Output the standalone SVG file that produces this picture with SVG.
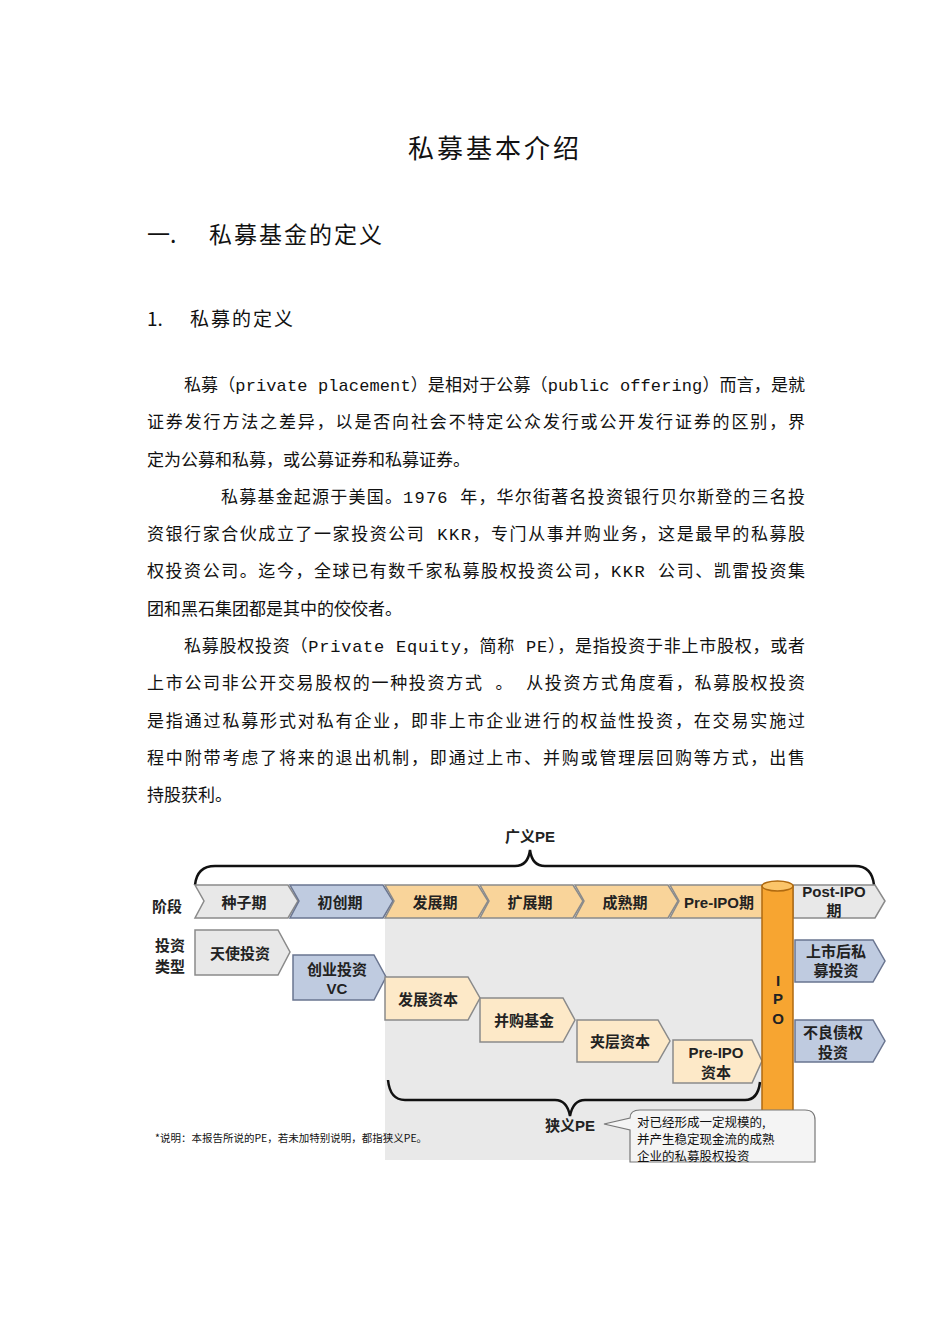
<svg xmlns="http://www.w3.org/2000/svg" width="950" height="1344" viewBox="0 0 950 1344">
<style>
.t{font-family:"Liberation Mono","Noto Sans CJK SC",monospace;font-size:17px;fill:#111}
.h{font-family:"Noto Sans CJK SC",sans-serif;fill:#111}
.d{font-family:"Liberation Sans","Noto Sans CJK SC",sans-serif;font-size:15px;font-weight:bold;fill:#222;text-anchor:middle}
.g{fill:#e8e8e8;stroke:#8a8a8a;stroke-width:1.5}
.b{fill:#bfcbe0;stroke:#6a7590;stroke-width:1.5}
.y{fill:#fde9c8;stroke:#8a8a8a;stroke-width:1.5}
.o{fill:#f9d49a;stroke:#8a8a8a;stroke-width:1.5}
.br{fill:none;stroke:#111;stroke-width:2.5}
</style>
<rect width="950" height="1344" fill="#fff"/>
<text class="h" x="495" y="158" font-size="26" text-anchor="middle" letter-spacing="3">私募基本介绍</text>
<text class="h" x="147" y="243" font-size="23">一.</text>
<text class="h" x="209" y="243" font-size="23" letter-spacing="2">私募基金的定义</text>
<text class="h" x="147" y="326" font-size="19">1.</text>
<text class="h" x="190" y="326" font-size="19" letter-spacing="2">私募的定义</text>
<g class="t">
<text x="184" y="391" textLength="621" lengthAdjust="spacing">私募（private placement）是相对于公募（public offering）而言，是就</text>
<text x="147" y="428" textLength="658" lengthAdjust="spacing">证券发行方法之差异，以是否向社会不特定公众发行或公开发行证券的区别，界</text>
<text x="147" y="466">定为公募和私募，或公募证券和私募证券。</text>
<text x="221" y="503" textLength="584" lengthAdjust="spacing">私募基金起源于美国。1976 年，华尔街著名投资银行贝尔斯登的三名投</text>
<text x="147" y="540" textLength="658" lengthAdjust="spacing">资银行家合伙成立了一家投资公司 KKR，专门从事并购业务，这是最早的私募股</text>
<text x="147" y="577" textLength="658" lengthAdjust="spacing">权投资公司。迄今，全球已有数千家私募股权投资公司，KKR 公司、凯雷投资集</text>
<text x="147" y="615">团和黑石集团都是其中的佼佼者。</text>
<text x="184" y="652" textLength="621" lengthAdjust="spacing">私募股权投资（Private Equity，简称 PE），是指投资于非上市股权，或者</text>
<text x="147" y="689" textLength="658" lengthAdjust="spacing">上市公司非公开交易股权的一种投资方式 。 从投资方式角度看，私募股权投资</text>
<text x="147" y="727" textLength="658" lengthAdjust="spacing">是指通过私募形式对私有企业，即非上市企业进行的权益性投资，在交易实施过</text>
<text x="147" y="764" textLength="658" lengthAdjust="spacing">程中附带考虑了将来的退出机制，即通过上市、并购或管理层回购等方式，出售</text>
<text x="147" y="801">持股获利。</text>
</g>
<rect x="385" y="918" width="377" height="242" fill="#e9e9e9"/>
<g id="connectors">
<path class="br" d="M195 885 Q197 866 215 866 L515 866 Q528 866 530 850 Q532 866 545 866 L855 866 Q872 866 874 885"/>
<path class="br" d="M388 1080 Q390 1100 405 1100 L555 1100 Q567 1100 570 1116 Q573 1100 585 1100 L745 1100 Q758 1100 760 1082"/>
</g>
<text class="d" x="530" y="842" font-size="16">广义PE</text>
<text class="d" x="167" y="912">阶段</text>
<text class="d" x="170" y="951">投资</text>
<text class="d" x="170" y="972">类型</text>
<g id="stages">
<path class="g" d="M195 885 L288 885 L298 901 L288 918 L195 918 L204 901Z"/>
<path class="b" d="M290 885 L383 885 L393 901 L383 918 L290 918 L299 901Z"/>
<path class="o" d="M385 885 L478 885 L488 901 L478 918 L385 918 L394 901Z"/>
<path class="o" d="M480 885 L573 885 L583 901 L573 918 L480 918 L489 901Z"/>
<path class="o" d="M575 885 L668 885 L678 901 L668 918 L575 918 L584 901Z"/>
<path class="o" d="M670 885 L765 885 L765 918 L670 918 L679 901Z"/>
<path class="g" d="M793 885 L875 885 L885 901 L875 918 L793 918Z"/>
<text class="d" x="244" y="908">种子期</text>
<text class="d" x="340" y="908">初创期</text>
<text class="d" x="435" y="908">发展期</text>
<text class="d" x="530" y="908">扩展期</text>
<text class="d" x="625" y="908">成熟期</text>
<text class="d" x="719" y="908">Pre-IPO期</text>
<text class="d" x="834" y="897">Post-IPO</text>
<text class="d" x="834" y="916">期</text>
</g>
<g id="types">
<path class="g" d="M195 930 L278 930 L290 952 L278 975 L195 975Z"/>
<text class="d" x="240" y="959">天使投资</text>
<path class="b" d="M293 955 L374 955 L386 977 L374 1000 L293 1000Z"/>
<text class="d" x="337" y="975">创业投资</text><text class="d" x="337" y="994">VC</text>
<path class="y" d="M385 977 L468 977 L480 998 L468 1020 L385 1020Z"/>
<text class="d" x="428" y="1005">发展资本</text>
<path class="y" d="M480 998 L563 998 L575 1020 L563 1042 L480 1042Z"/>
<text class="d" x="524" y="1026">并购基金</text>
<path class="y" d="M577 1020 L658 1020 L670 1041 L658 1062 L577 1062Z"/>
<text class="d" x="620" y="1047">夹层资本</text>
<path class="y" d="M673 1040 L752 1040 L762 1061 L752 1083 L673 1083Z"/>
<text class="d" x="716" y="1058">Pre-IPO</text><text class="d" x="716" y="1078">资本</text>
<path class="b" d="M795 940 L873 940 L885 961 L873 982 L795 982Z"/>
<text class="d" x="836" y="957">上市后私</text><text class="d" x="836" y="976">募投资</text>
<path class="b" d="M795 1020 L873 1020 L885 1041 L873 1062 L795 1062Z"/>
<text class="d" x="833" y="1038">不良债权</text><text class="d" x="833" y="1058">投资</text>
</g>
<g id="ipo">
<path d="M762 886 L762 1130 A15.5 5 0 0 0 793 1130 L793 886Z" fill="#f7a531" stroke="#b06a10" stroke-width="1.5"/>
<ellipse cx="777.5" cy="886" rx="15.5" ry="5" fill="#fbc56a" stroke="#b06a10" stroke-width="1.5"/>
<text class="d" x="778" y="986">I</text><text class="d" x="778" y="1004">P</text><text class="d" x="778" y="1024">O</text>
</g>
<text class="d" x="570" y="1131" font-size="16">狭义PE</text>
<g id="callout">
<path d="M640 1110 L805 1110 Q815 1110 815 1120 L815 1162 L630 1162 L630 1130 L604 1124 L630 1118 Q630 1110 640 1110Z" fill="#f4f4f4" stroke="#777" stroke-width="1.2"/>
<text class="h" x="637" y="1127" font-size="12.5">对已经形成一定规模的,</text>
<text class="h" x="637" y="1144" font-size="12.5">并产生稳定现金流的成熟</text>
<text class="h" x="637" y="1161" font-size="12.5">企业的私募股权投资</text>
</g>
<text class="h" x="155" y="1142" font-size="10.5">*说明：本报告所说的PE，若未加特别说明，都指狭义PE。</text>
</svg>
